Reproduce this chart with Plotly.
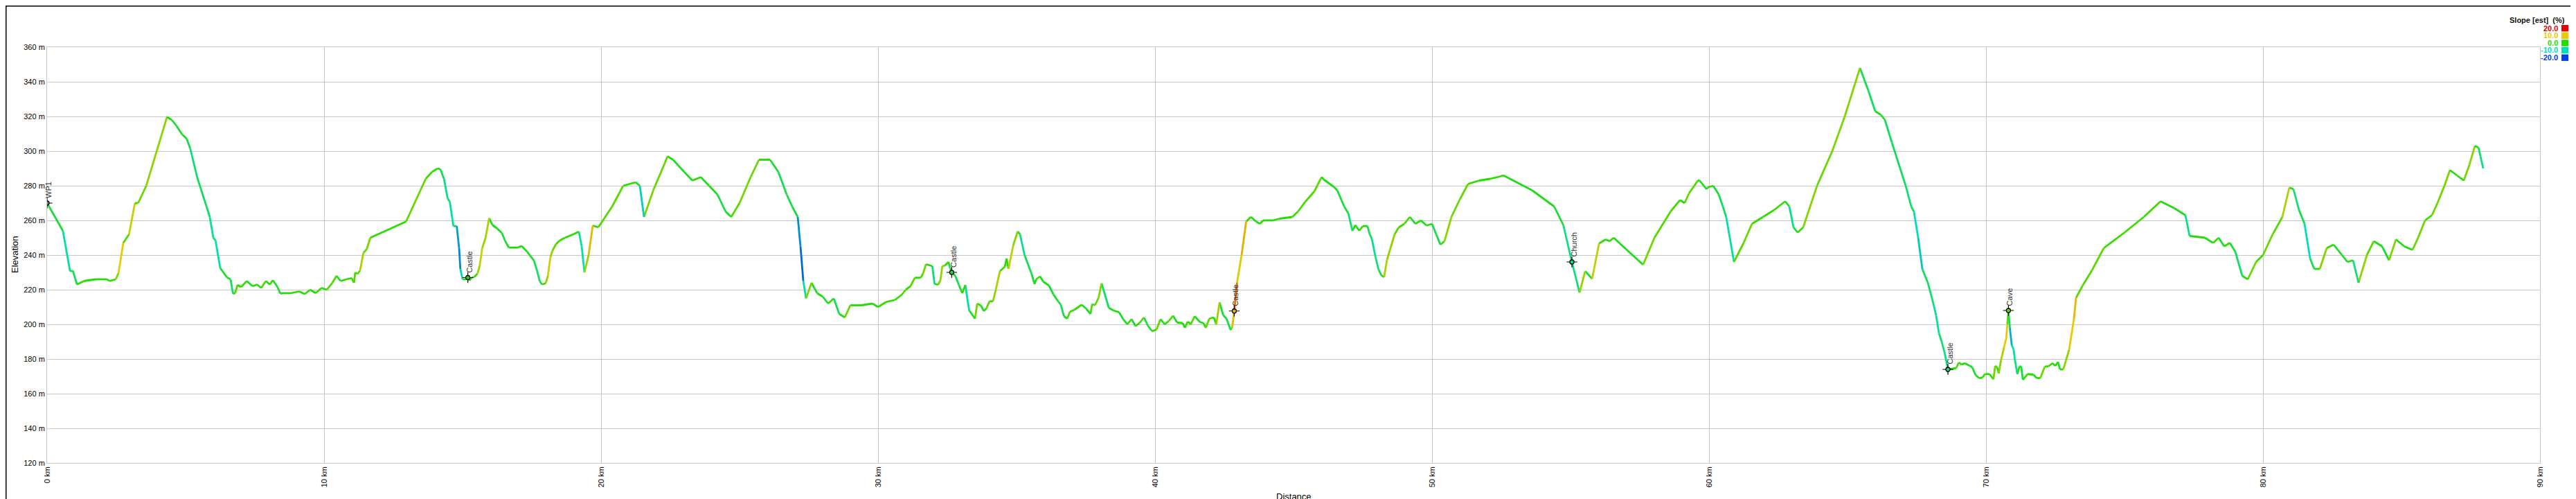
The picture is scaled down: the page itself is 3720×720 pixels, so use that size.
import plotly.graph_objects as go
import numpy as np

# ---------------- data ----------------
dist_km = [0, 0.57, 0.83, 0.93, 1.08, 1.33, 1.75, 2.17, 2.25, 2.48, 2.58, 2.75, 2.96, 3.17, 3.29, 3.58,
           4.33, 4.5, 4.67, 4.875, 5.04, 5.17, 5.42, 5.75, 5.875, 6.0, 6.08, 6.25, 6.5, 6.625, 6.71, 6.79,
           6.875, 7.0, 7.21, 7.42, 7.58, 7.73, 7.9, 8.04, 8.15, 8.32, 8.42, 8.5, 8.8, 9.1, 9.3, 9.5, 9.7,
           9.9, 10.1, 10.3, 10.45, 10.6, 10.8, 11.0, 11.08, 11.125, 11.2, 11.3, 11.42, 11.54, 11.67, 12.96,
           13.67, 13.9, 14.1, 14.2, 14.33, 14.46, 14.54, 14.67, 14.79, 14.875, 14.92, 15.0, 15.125, 15.19,
           15.25, 15.33, 15.42, 15.54, 15.62, 15.71, 15.83, 15.96, 16.08, 16.25, 16.42, 16.54, 16.67, 17.0,
           17.125, 17.33, 17.58, 17.67, 17.79, 17.875, 18.0, 18.08, 18.17, 18.25, 18.375, 18.5,
           18.7, 19.0, 19.2, 19.3, 19.4, 19.55, 19.7, 19.9, 20.4, 20.8, 21.25, 21.4, 21.55, 21.9, 22.3,
           22.4, 22.6, 23.0, 23.3, 23.6, 23.9, 24.2, 24.5, 24.7, 25.0, 25.4, 25.7, 26.1, 26.4, 26.7,
           26.9, 27.1, 27.2, 27.3, 27.4, 27.6, 27.8, 28.0, 28.2, 28.4, 28.6, 28.8, 29.0, 29.4, 29.8,
           30.0, 30.3, 30.6, 30.85,
           31.0, 31.17, 31.33, 31.54, 31.625, 31.73, 31.96, 32.04, 32.17, 32.25, 32.32, 32.42, 32.54, 32.6,
           32.66, 32.79, 32.92, 33.04, 33.15, 33.29, 33.5, 33.58, 33.71, 33.82, 33.92, 34.02, 34.15, 34.25,
           34.4, 34.58, 34.64, 34.71, 34.875, 35.04, 35.125, 35.29, 35.54, 35.65, 35.71, 35.85, 35.96,
           36.17, 36.33, 36.5, 36.6, 36.71, 36.83, 36.93, 37.08, 37.35, 37.5, 37.67, 37.73, 37.83, 37.96,
           38.07, 38.33, 38.5, 38.7, 38.85, 39.0, 39.15, 39.3, 39.45, 39.6, 39.75, 39.9, 40.05, 40.2, 40.35,
           40.5, 40.65, 40.8, 41.0, 41.08, 41.18, 41.29, 41.43, 41.625, 41.75, 41.83, 41.96, 42.125, 42.21,
           42.33, 42.46, 42.58, 42.73, 42.79, 42.86, 42.96, 43.125, 43.29, 43.46, 43.65, 43.79, 43.9, 44.25,
           44.5, 44.96, 45.17, 45.42, 45.75, 45.98, 46.03, 46.08, 46.46, 46.58, 46.83, 46.98, 47.125, 47.23,
           47.375, 47.5, 47.67, 47.75, 47.83, 47.96, 48.07, 48.17, 48.27, 48.375, 48.5,
           48.65, 48.8, 49.0, 49.2, 49.4, 49.6, 49.8, 50.0, 50.15, 50.3, 50.45, 50.7, 51.0, 51.3, 51.7,
           52.1, 52.45, 52.575, 53.62, 54.41, 54.74, 55.05, 55.325, 55.53, 55.78, 56.03, 56.27, 56.41,
           56.56, 56.78, 57.62, 58.03, 58.62, 58.95, 59.12, 59.28, 59.6, 59.66, 59.91, 59.95,
           60.15, 60.35, 60.5, 60.62, 60.75, 60.9, 61.25, 61.55, 61.95, 62.35, 62.75, 62.9, 63.05, 63.2,
           63.4, 63.9, 64.45, 64.9, 65.45, 65.75, 66.0, 66.2, 66.35, 66.6, 66.9, 67.1, 67.3, 67.4, 67.55,
           67.7, 67.8, 67.9, 68.0, 68.1, 68.2, 68.3, 68.4,
           68.5, 68.625, 68.92, 69.02, 69.125, 69.23, 69.42, 69.5, 69.625, 69.75, 69.875, 69.96, 70.125,
           70.27, 70.33, 70.4, 70.46, 70.54, 70.65, 70.73, 70.77, 70.81, 70.86, 70.93, 71.0, 71.04, 71.13,
           71.21, 71.27, 71.33, 71.5, 71.71, 71.83, 71.96, 72.125, 72.25, 72.4, 72.5, 72.6, 72.67, 72.79,
           73.0, 73.17, 73.25, 73.5, 73.83, 74.25,
           75.0, 75.7, 76.3, 76.8, 77.2, 77.35, 77.9, 78.2, 78.4, 78.6, 78.8, 79.0, 79.25, 79.45, 79.75,
           80.0, 80.35, 80.7, 80.95, 81.1, 81.3, 81.5, 81.7, 81.85, 82.05, 82.3, 82.55, 82.85, 83.05, 83.25,
           83.45, 83.75, 84.0, 84.3, 84.55, 84.8, 85.1, 85.4, 85.6, 85.85, 86.1, 86.3, 86.55, 86.75, 87.0,
           87.25, 87.45, 87.65, 87.78, 87.85, 87.95]
elev_m = [270, 254, 230.6, 231, 223, 225, 226, 226, 225, 226, 229.7, 247, 252, 270, 270, 280,
          319.7, 318, 314.6, 309.6, 307.2, 301.4, 284.8, 268.3, 261.9, 250, 248.5, 232.5, 227, 226, 217.8, 218,
          222.8, 221.5, 225, 222, 223, 221, 225, 223, 225.5, 221.5, 217.8, 218, 218, 219, 217.5, 220, 218,
          221, 220, 224, 228, 225, 226, 226.7, 224, 230, 229, 231, 241.3, 243.3, 250, 259.3,
          284, 288, 290, 289.5, 284, 272.7, 270.7, 256.7, 256.7, 244, 232, 226, 226, 227,
          225.3, 227, 227.3, 229.3, 234, 244, 250, 261.3, 257.3, 255.3, 252.7, 248, 244.3, 244.3,
          245.3, 242, 236.7, 232, 224.7, 223, 223.7, 228, 238.7, 242.7, 246.3, 248.3,
          250, 252, 253.5, 245, 230, 240, 257, 256, 268, 280, 282, 280, 262, 278, 293,
          297, 295, 288, 283, 285, 280, 275, 265, 262, 270, 285, 295, 295, 288, 275,
          268, 262, 245, 225, 215, 224, 218, 216, 212, 215, 206, 204, 211, 211, 212,
          210, 213, 214, 217,
          220, 222, 226.9, 226.9, 229.3, 234.7, 233.6, 223.3, 222.9, 225.3, 233.6, 234, 236, 232.7,
          230, 228, 222.7, 218, 222.7, 208, 203.3, 212, 210.9, 207.7, 209.3, 213.3, 213.3, 220,
          230.7, 233.3, 238, 232, 245.3, 253.6, 252, 240, 229.3, 223.3, 226, 227.7, 224.7,
          222.4, 217.3, 213.3, 211.3, 204.7, 203.3, 207.3, 208.3, 211.3, 209.3, 206, 211.7, 211, 215.3,
          223.7, 209.6, 208, 207, 203, 200, 203, 199, 201, 204, 199, 196, 197, 203, 200,
          202, 205, 201, 200.7, 198, 201.6, 200, 204.7, 201.3, 200.7, 198, 203.3, 204, 200,
          212.7, 205.3, 203.3, 196.7, 198.7, 207.7, 224, 240, 259.3, 262, 259.3, 258, 260, 260,
          261, 262, 265.3, 270.7, 276.7, 284, 285, 283.7, 279.3, 277.3, 268, 264, 254, 257.3,
          254, 256.7, 256.7, 252, 249.3, 238.7, 231.7, 228.3, 227.3, 237.3, 244,
          252, 256, 258, 262, 258, 260, 257, 258, 252, 246, 248, 262, 272, 281, 283,
          284, 285.3, 286, 277.3, 268, 257.3, 236, 218.3, 230.7, 226.3, 246.7, 249, 248,
          250, 246.7, 234.4, 250, 265.3, 271.7, 270, 275.7, 283, 283, 278, 279,
          280, 275, 268, 262, 250, 236, 247, 258, 262, 266, 271, 268, 256, 253,
          256, 280, 300, 320, 348, 335, 323, 321, 318, 305, 290, 280, 268, 265, 250,
          232, 228, 224, 218, 212, 205, 195, 190,
          184, 174, 174.7, 178, 176.7, 177.6, 176, 175.3, 170.7, 169, 169.3, 171.3, 171.3,
          168.3, 176, 175.3, 171.7, 179.3, 186.7, 192, 200, 208, 198, 188, 185.3, 180, 171.3,
          175.7, 175.7, 168, 171.3, 171, 169, 169, 175.7, 175.7, 177.6, 176, 178.3, 174, 174,
          185.3, 202.7, 215.3, 222.7, 231.3, 244,
          253, 262, 271, 267, 263, 251, 250, 247, 250, 245, 247, 242, 228, 226, 236,
          240, 252, 262, 279, 278, 266, 258, 238, 232, 232, 244, 246, 240, 236, 237,
          224, 240, 248, 245, 237, 249, 245, 243, 250, 260, 263, 270, 280, 289, 286,
          283, 292, 303, 302, 297, 290]

wp_names = ["WP1", "Castle", "Castle", "Castle", "Church", "Castle", "Cave"]
wp_km = [0, 15.19, 32.66, 42.86, 55.05, 68.625, 70.81]
wp_elev = [270, 227, 230, 207.7, 236, 174, 208]

legend_vals = [20.0, 10.0, 0.0, -10.0, -20.0]
legend_colors = ["#e60000", "#e6cc00", "#22dd00", "#00e0b8", "#0040e6"]

y_ticks = list(range(120, 361, 20))
x_ticks = list(range(0, 91, 10))

# ---------------- helpers ----------------
def hex2rgb(h):
    h = h.lstrip("#")
    return tuple(int(h[i:i + 2], 16) for i in (0, 2, 4))

stops = sorted(zip(legend_vals, [hex2rgb(c) for c in legend_colors]))

def slope_color(s):
    s = max(stops[0][0], min(stops[-1][0], s))
    for (v0, c0), (v1, c1) in zip(stops[:-1], stops[1:]):
        if v0 <= s <= v1:
            t = (s - v0) / (v1 - v0)
            c = [round(c0[i] + (c1[i] - c0[i]) * t) for i in range(3)]
            return "rgb(%d,%d,%d)" % tuple(c)
    return "rgb(34,221,0)"

# ---------------- figure ----------------
W, H = 3720, 720
ML, MR, MT, MB = 60, 60, 60, 60
PW, PH = W - ML - MR, H - MT - MB

def px(x):
    return (x - ML) / PW

def py(y):
    return (H - MB - y) / PH

fig = go.Figure()

dk = np.array(dist_km, dtype=float)
em = np.array(elev_m, dtype=float)
HW = 0.08  # half window (km) for the estimated slope

groups = {}
seg_colors = []
for i in range(len(dist_km) - 1):
    m = 0.5 * (dk[i] + dk[i + 1])
    a, b = max(dk[0], m - HW), min(dk[-1], m + HW)
    s = (np.interp(b, dk, em) - np.interp(a, dk, em)) / ((b - a) * 1000.0) * 100.0
    sq = round(s * 2) / 2.0
    col = slope_color(sq)
    seg_colors.append(col)
    g = groups.setdefault(col, ([], []))
    g[0].extend([dist_km[i], dist_km[i + 1], None])
    g[1].extend([elev_m[i], elev_m[i + 1], None])

for col, (xs, ys) in groups.items():
    fig.add_trace(go.Scatter(x=xs, y=ys, mode="lines",
                             line=dict(color=col, width=2.8),
                             hoverinfo="skip", showlegend=False))

# waypoint fills
wp_fill = []
for k, d in enumerate(wp_km):
    if k == 0:
        wp_fill.append("#7f7f7f")
        continue
    idx = 0
    for i in range(len(dist_km) - 1):
        if dist_km[i] <= d <= dist_km[i + 1]:
            idx = i
            break
    wp_fill.append(seg_colors[idx])

fig.add_trace(go.Scatter(x=wp_km, y=wp_elev, mode="markers",
                         marker=dict(symbol="cross-thin", size=11,
                                     line=dict(color="black", width=1.2)),
                         hoverinfo="skip", showlegend=False))
fig.add_trace(go.Scatter(x=wp_km, y=wp_elev, mode="markers",
                         marker=dict(symbol="circle", size=6, color=wp_fill,
                                     line=dict(color="black", width=1.3)),
                         hoverinfo="skip", showlegend=False))

FONT = "Liberation Sans, Arial, sans-serif"
annotations = []
for name, d, e in zip(wp_names, wp_km, wp_elev):
    annotations.append(dict(x=d, y=e, xref="x", yref="y", text=name, showarrow=False,
                            textangle=-90, xanchor="center", yanchor="bottom",
                            xshift=2, yshift=5,
                            font=dict(family=FONT, size=11, color="#333333")))

# axis titles
annotations.append(dict(x=px(13), y=0.5, xref="paper", yref="paper", text="Elevation",
                        textangle=-90, showarrow=False, xanchor="center", yanchor="middle",
                        font=dict(family=FONT, size=13, color="black")))
annotations.append(dict(x=0.5, y=py(708), xref="paper", yref="paper", text="Distance",
                        showarrow=False, xanchor="center", yanchor="middle",
                        font=dict(family=FONT, size=13, color="black")))
# credit
annotations.append(dict(x=px(3713), y=py(438), xref="paper", yref="paper",
                        text="created by GPSVisualizer.com", textangle=-90, showarrow=False,
                        xanchor="center", yanchor="bottom",
                        font=dict(family=FONT, size=11, color="#999999")))
# legend
annotations.append(dict(x=px(3698), y=py(21), xref="paper", yref="paper",
                        text="<b>Slope [est]  (%)</b>", showarrow=False,
                        xanchor="right", yanchor="middle",
                        font=dict(family=FONT, size=11, color="#111111")))
shapes = []
leg_y = [32.7, 43.3, 54.0, 64.5, 75.2]
for v, c, yy in zip(legend_vals, legend_colors, leg_y):
    annotations.append(dict(x=px(3688), y=py(yy), xref="paper", yref="paper",
                            text="<b>%.1f</b>" % v, showarrow=False,
                            xanchor="right", yanchor="middle",
                            font=dict(family=FONT, size=11, color=c)))
    shapes.append(dict(type="rect", xref="paper", yref="paper",
                       x0=px(3691), x1=px(3701), y0=py(yy + 4.7), y1=py(yy - 4.7),
                       fillcolor=c, line=dict(width=0)))

# outer border
shapes.append(dict(type="rect", xref="paper", yref="paper",
                   x0=px(0.75), x1=px(W - 0.75), y0=py(H - 0.75), y1=py(0.75),
                   line=dict(color="black", width=1.5), fillcolor="rgba(0,0,0,0)"))

fig.update_layout(
    width=W, height=H,
    margin=dict(l=ML, r=MR, t=MT, b=MB, pad=0),
    paper_bgcolor="white", plot_bgcolor="white",
    font=dict(family=FONT, size=11, color="black"),
    annotations=annotations, shapes=shapes,
    xaxis=dict(range=[0, 90], tickvals=x_ticks, ticktext=["%d km" % v for v in x_ticks],
               tickangle=-90, showgrid=True, gridcolor="#c8c8c8", gridwidth=1,
               showline=True, linecolor="#c8c8c8", linewidth=1, mirror=True,
               zeroline=False, ticks="", fixedrange=True,
               tickfont=dict(size=11, color="black")),
    yaxis=dict(range=[120, 360], tickvals=y_ticks, ticktext=["%d m" % v for v in y_ticks],
               showgrid=True, gridcolor="#c8c8c8", gridwidth=1,
               showline=True, linecolor="#c8c8c8", linewidth=1, mirror=True,
               zeroline=False, ticks="", fixedrange=True,
               tickfont=dict(size=11, color="black")),
)

fig.write_html("out.html")
